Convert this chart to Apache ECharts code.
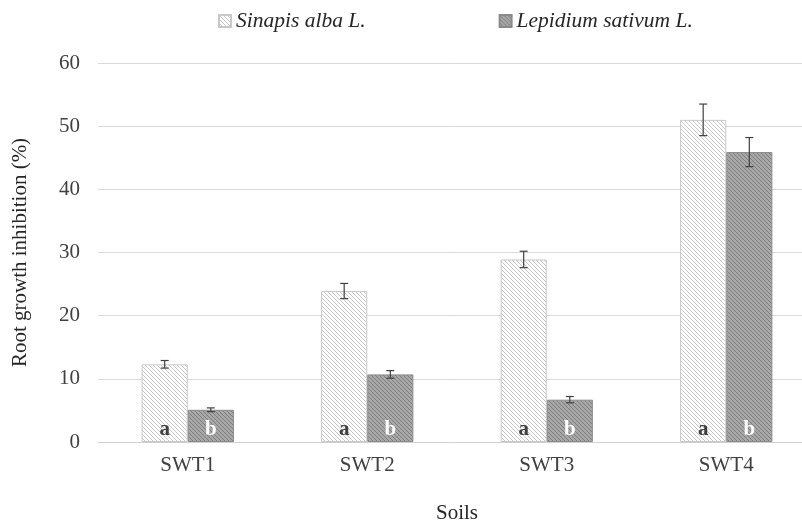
<!DOCTYPE html>
<html><head><meta charset="utf-8">
<script src="https://cdn.jsdelivr.net/npm/echarts@6/dist/echarts.min.js"></script>
<style>html,body{margin:0;padding:0;background:#fff;overflow:hidden}#c{width:802px;height:522px}</style>
</head><body><div id="c"></div>
<script>
const categories = ['SWT1','SWT2','SWT3','SWT4'];
const sinapis = [12.3, 23.9, 28.9, 51.0];
const sinapisErr = [0.6, 1.2, 1.3, 2.5];
const lepidium = [5.1, 10.7, 6.7, 45.9];
const lepidiumErr = [0.3, 0.6, 0.5, 2.3];
const sinapisLabel = 'a';
const lepidiumLabel = 'b';
const seriesNames = ['Sinapis alba L.', 'Lepidium sativum L.'];
const BAR_FRAC = 0.257;

function hatch(bg, fg) {
  const s = 4;
  const c = document.createElement('canvas');
  c.width = s; c.height = s;
  const g = c.getContext('2d');
  g.fillStyle = bg; g.fillRect(0,0,s,s);
  g.strokeStyle = fg; g.lineWidth = 1;
  for (const k of [-s, 0, s]) {
    g.beginPath(); g.moveTo(k, 0); g.lineTo(k + s, s); g.stroke();
  }
  return {image: c, repeat: 'repeat'};
}
const pat1 = hatch('#ffffff', '#c8c8c8');
const pat2 = hatch('#a8a8a8', '#7c7c7c');

function errSeries(vals, errs, side) {
  return {
    type: 'custom',
    silent: true,
    z: 10,
    data: vals.map((v,i)=>[i, v, errs[i]]),
    renderItem: function(params, api) {
      const i = api.value(0), v = api.value(1), e = api.value(2);
      const band = api.size([1,0])[0];
      const bw = band * BAR_FRAC;
      const c0 = api.coord([i, v]);
      const x = c0[0] + side * bw / 2;
      const yt = api.coord([i, v + e])[1];
      const yb = api.coord([i, v - e])[1];
      const hw = 4;
      const st = {stroke: '#404040', lineWidth: 1.2};
      return {type: 'group', children: [
        {type:'line', shape:{x1:x,y1:yt,x2:x,y2:yb}, style:st},
        {type:'line', shape:{x1:x-hw,y1:yt,x2:x+hw,y2:yt}, style:st},
        {type:'line', shape:{x1:x-hw,y1:yb,x2:x+hw,y2:yb}, style:st}
      ]};
    }
  };
}

const chart = echarts.init(document.getElementById('c'));
chart.setOption({
  animation: false,
  textStyle: {fontFamily: 'Liberation Serif'},
  legend: {
    top: 5, left: 213,
    itemWidth: 12, itemHeight: 12, itemGap: 133,
    icon: 'rect',
    textStyle: {fontFamily: 'Liberation Serif', fontStyle: 'italic', fontSize: 21.5, color: '#262626'},
    data: seriesNames
  },
  grid: {left: 98, right: -14, top: 63, height: 379, outerBoundsMode: 'none', containLabel: false},
  xAxis: {
    type: 'category', data: categories,
    axisLine: {lineStyle: {color: '#d0d0d0'}},
    axisTick: {show: false},
    axisLabel: {fontFamily: 'Liberation Serif', fontSize: 21, color: '#404040', margin: 13},
    name: 'Soils', nameLocation: 'middle', nameGap: 61,
    nameTextStyle: {fontFamily: 'Liberation Serif', fontSize: 21, color: '#262626'}
  },
  yAxis: {
    type: 'value', min: 0, max: 60, interval: 10,
    axisLine: {show: false}, axisTick: {show: false},
    splitLine: {lineStyle: {color: '#d9d9d9'}},
    axisLabel: {fontFamily: 'Liberation Serif', fontSize: 21, color: '#404040', margin: 18},
    name: 'Root growth inhibition (%)', nameLocation: 'middle', nameGap: 67,
    nameTextStyle: {fontFamily: 'Liberation Serif', fontSize: 21, color: '#262626'}
  },
  series: [
    {
      name: seriesNames[0], type: 'bar', data: sinapis,
      barWidth: (BAR_FRAC*100)+'%', barGap: '0%',
      itemStyle: {color: pat1, borderColor: '#c8c8c8', borderWidth: 1},
      label: {show: true, position: 'insideBottom', formatter: sinapisLabel, distance: 2,
        fontFamily: 'Liberation Serif', fontWeight: 'bold', fontSize: 21, color: '#404040'}
    },
    {
      name: seriesNames[1], type: 'bar', data: lepidium,
      barWidth: (BAR_FRAC*100)+'%', barGap: '0%',
      itemStyle: {color: pat2, borderColor: '#8a8a8a', borderWidth: 1},
      label: {show: true, position: 'insideBottom', formatter: lepidiumLabel, distance: 2,
        fontFamily: 'Liberation Serif', fontWeight: 'bold', fontSize: 21, color: '#ffffff'}
    },
    errSeries(sinapis, sinapisErr, -1),
    errSeries(lepidium, lepidiumErr, 1)
  ]
});
</script></body></html>
